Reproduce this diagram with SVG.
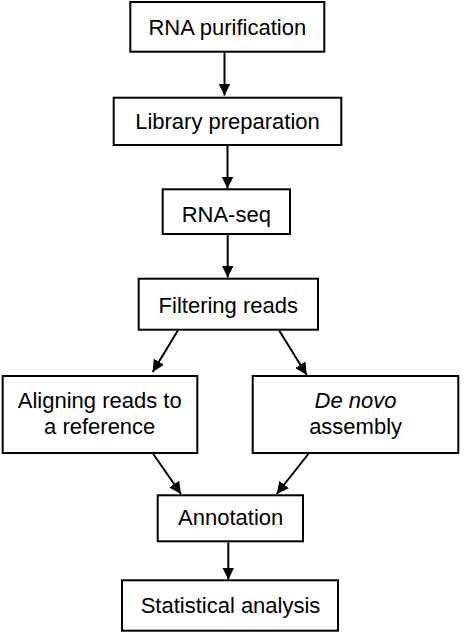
<svg xmlns="http://www.w3.org/2000/svg" width="472" height="643" viewBox="0 0 472 643">
<style>
.box{fill:#fff;stroke:#000;stroke-width:2}
.lbl{font-family:"Liberation Sans",Arial,sans-serif;font-size:22px;fill:#000;text-anchor:middle}
.conn{stroke:#000;stroke-width:2;fill:none;marker-end:url(#ah)}
</style>
<defs>
<marker id="ah" markerUnits="userSpaceOnUse" markerWidth="12" markerHeight="12" refX="11" refY="5.5" orient="auto" viewBox="0 0 11 11">
<path d="M0,0 L11,5.5 L0,11 z" fill="#000"/>
</marker>
</defs>
<rect width="472" height="643" fill="#fff"/>
<g id="connectors">
<line class="conn" x1="224.5" y1="52.7" x2="224.5" y2="95.5"/>
<line class="conn" x1="227.5" y1="146" x2="227.5" y2="188.5"/>
<line class="conn" x1="227.7" y1="235" x2="227.7" y2="277.5"/>
<line class="conn" x1="177.7" y1="330.7" x2="152.7" y2="372"/>
<line class="conn" x1="279.3" y1="330.7" x2="306.7" y2="375"/>
<line class="conn" x1="153.3" y1="454" x2="181" y2="494"/>
<line class="conn" x1="308.3" y1="454" x2="276.7" y2="494"/>
<line class="conn" x1="228.3" y1="542.3" x2="228.3" y2="579.5"/>
</g>
<g id="n1"><rect class="box" x="130.3" y="2" width="194" height="49.7"/><text class="lbl" x="227.3" y="35">RNA purification</text></g>
<g id="n2"><rect class="box" x="113.7" y="97.7" width="227.6" height="47.3"/><text class="lbl" x="227.5" y="129.3">Library preparation</text></g>
<g id="n3"><rect class="box" x="162.7" y="189.3" width="127.3" height="44.7"/><text class="lbl" x="226.3" y="221.7">RNA-seq</text></g>
<g id="n4"><rect class="box" x="138.7" y="278.7" width="179.3" height="51"/><text class="lbl" x="228.3" y="313.3">Filtering reads</text></g>
<g id="n5"><rect class="box" x="2.7" y="376" width="194.6" height="77"/><text class="lbl" x="99.7" y="408.3">Aligning reads to</text><text class="lbl" x="99.7" y="434.3">a reference</text></g>
<g id="n6"><rect class="box" x="252.7" y="376" width="205.6" height="77"/><text class="lbl" x="355.6" y="408.3"><tspan font-style="italic">De novo</tspan></text><text class="lbl" x="355.6" y="434.3">assembly</text></g>
<g id="n7"><rect class="box" x="157.7" y="495.3" width="145.3" height="46"/><text class="lbl" x="230.7" y="525">Annotation</text></g>
<g id="n8"><rect class="box" x="122" y="580.3" width="216" height="50.4"/><text class="lbl" x="230.5" y="613.3">Statistical analysis</text></g>
</svg>
